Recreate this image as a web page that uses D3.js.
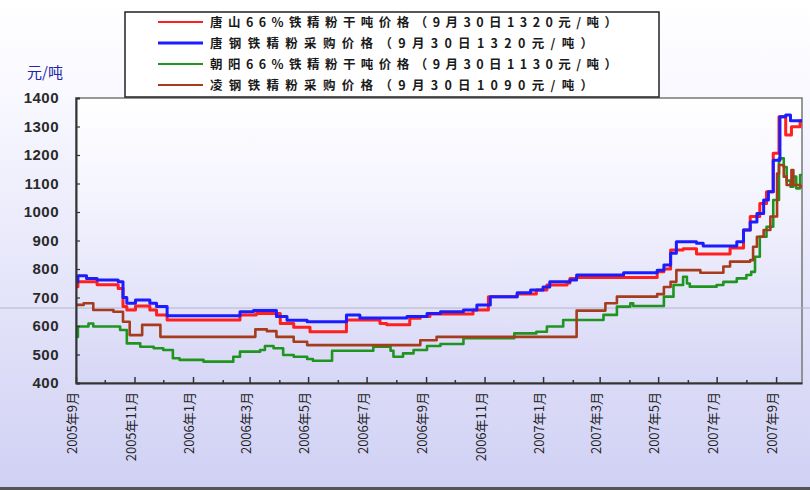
<!DOCTYPE html>
<html>
<head>
<meta charset="utf-8">
<script src="https://cdn.jsdelivr.net/npm/d3@7"></script>
<style>
  body { margin: 0; background: #fff; }
  svg { display: block; }
</style>
</head>
<body>
<svg id="chart"></svg>
<script>
// step series, [date, yuan/ton] = value from that date on
const tangshan = [["2005-09-01",738],["2005-09-03",755],["2005-09-23",745],["2005-10-15",732],["2005-10-20",668],["2005-10-24",656],["2005-11-02",670],["2005-11-17",656],["2005-11-24",639],["2005-12-05",621],["2006-02-19",639],["2006-03-08",644],["2006-04-02",609],["2006-04-16",596],["2006-05-03",580],["2006-06-10",621],["2006-07-15",609],["2006-07-22",604],["2006-08-15",627],["2006-08-26",633],["2006-09-05",642],["2006-10-20",656],["2006-11-05",703],["2006-12-05",712],["2006-12-25",726],["2007-01-05",744],["2007-01-26",751],["2007-01-29",767],["2007-02-05",770],["2007-04-30",790],["2007-05-07",800],["2007-05-14",867],["2007-05-27",871],["2007-06-10",853],["2007-07-15",874],["2007-07-29",937],["2007-08-05",984],["2007-08-15",1030],["2007-08-22",1071],["2007-08-29",1206],["2007-09-04",1334],["2007-09-11",1270],["2007-09-17",1299],["2007-09-26",1320],["2007-09-28",1320]]
const tanggang = [["2005-09-01",755],["2005-09-03",776],["2005-09-12",767],["2005-09-23",761],["2005-10-15",755],["2005-10-20",700],["2005-10-24",680],["2005-11-02",691],["2005-11-17",680],["2005-11-24",668],["2005-12-05",636],["2006-02-19",650],["2006-03-05",654],["2006-03-29",633],["2006-04-09",620],["2006-04-30",615],["2006-06-10",639],["2006-06-24",628],["2006-08-12",633],["2006-09-02",644],["2006-09-16",650],["2006-10-10",656],["2006-10-24",674],["2006-11-07",703],["2006-12-05",717],["2006-12-19",726],["2007-01-01",737],["2007-01-08",755],["2007-01-29",761],["2007-02-05",779],["2007-03-26",787],["2007-04-30",796],["2007-05-07",814],["2007-05-14",855],["2007-05-20",896],["2007-06-10",890],["2007-06-17",881],["2007-07-22",896],["2007-07-29",937],["2007-08-05",965],["2007-08-12",995],["2007-08-19",1042],["2007-08-24",1071],["2007-08-29",1182],["2007-09-05",1334],["2007-09-11",1340],["2007-09-16",1320],["2007-09-28",1320]]
const chaoyang = [["2005-09-01",562],["2005-09-03",598],["2005-09-14",609],["2005-09-19",598],["2005-10-17",586],["2005-10-24",539],["2005-11-07",527],["2005-11-21",522],["2005-12-01",516],["2005-12-11",487],["2005-12-18",481],["2006-01-12",475],["2006-02-12",492],["2006-02-19",510],["2006-03-12",516],["2006-03-17",530],["2006-03-26",522],["2006-04-05",498],["2006-04-16",492],["2006-04-30",484],["2006-05-06",478],["2006-05-26",513],["2006-07-08",527],["2006-07-26",513],["2006-07-29",492],["2006-08-08",504],["2006-08-19",516],["2006-09-02",530],["2006-09-16",537],["2006-10-10",557],["2006-12-02",574],["2006-12-25",580],["2007-01-05",598],["2007-01-22",621],["2007-03-05",639],["2007-03-19",668],["2007-04-02",680],["2007-04-05",670],["2007-05-07",703],["2007-05-17",744],["2007-05-27",773],["2007-05-31",749],["2007-06-03",738],["2007-07-01",744],["2007-07-08",755],["2007-07-22",767],["2007-08-01",779],["2007-08-06",790],["2007-08-10",843],["2007-08-15",913],["2007-08-22",948],["2007-08-29",1042],["2007-09-04",1188],["2007-09-09",1158],["2007-09-12",1110],["2007-09-16",1089],["2007-09-19",1124],["2007-09-22",1083],["2007-09-26",1130],["2007-09-28",1130]]
const linggang = [["2005-09-01",674],["2005-09-09",680],["2005-09-19",656],["2005-10-10",650],["2005-10-20",615],["2005-10-27",568],["2005-11-09",604],["2005-11-28",562],["2006-03-07",588],["2006-03-19",582],["2006-03-29",562],["2006-04-16",545],["2006-04-30",533],["2006-08-26",550],["2006-09-12",562],["2007-02-05",654],["2007-03-07",680],["2007-03-19",703],["2007-04-30",712],["2007-05-07",737],["2007-05-14",755],["2007-05-20",796],["2007-06-14",787],["2007-07-08",809],["2007-07-15",826],["2007-08-05",831],["2007-08-08",878],["2007-08-12",913],["2007-08-19",937],["2007-08-26",984],["2007-09-02",1135],["2007-09-04",1165],["2007-09-09",1124],["2007-09-12",1095],["2007-09-17",1147],["2007-09-19",1095],["2007-09-26",1090],["2007-09-28",1090]]

const seriesNames = ["唐山66%铁精粉干吨价格（9月30日1320元/吨）", "唐钢铁精粉采购价格（9月30日1320元/吨）", "朝阳66%铁精粉干吨价格（9月30日1130元/吨）", "凌钢铁精粉采购价格（9月30日1090元/吨）"]
const yTicks = [400, 500, 600, 700, 800, 900, 1000, 1100, 1200, 1300, 1400]
const dateRange = ["2005-09-01", "2007-09-28"]
const yUnit = "元/吨"

const width = 810, height = 490
const margin = {left: 76, right: 8, top: 98, bottom: 107}
const colors = ["#ff1f1f", "#1c1cff", "#1f951f", "#a53c1c"]
const widths = [3, 3, 2.6, 2.6]
const legendLen = [407, 383, 407, 383]

const parse = d3.timeParse("%Y-%m-%d")
const allSeries = [tangshan, tanggang, chaoyang, linggang]
  .map(s => s.map(d => ({date: parse(d[0]), value: d[1]})))

const svg = d3.select("#chart")
  .attr("width", width)
  .attr("height", height)
  .style("font-family", "'Liberation Sans', Arial, sans-serif")

const defs = svg.append("defs")
const bgGrad = defs.append("linearGradient").attr("id", "bg-grad")
  .attr("x1", "0%").attr("y1", "0%").attr("x2", "0%").attr("y2", "100%")
bgGrad.selectAll("stop")
  .data([{o: "0%", c: "#ffffff"}, {o: "20%", c: "#f8f8ff"}, {o: "100%", c: "#d0d0f4"}])
  .enter().append("stop")
  .attr("offset", d => d.o).attr("stop-color", d => d.c)

const plotGrad = defs.append("linearGradient").attr("id", "plot-grad")
  .attr("x1", "0%").attr("y1", "0%").attr("x2", "0%").attr("y2", "100%")
plotGrad.selectAll("stop")
  .data([{o: "0%", c: "#ffffff"}, {o: "35%", c: "#f4f4fe"}, {o: "100%", c: "#d6d6f6"}])
  .enter().append("stop")
  .attr("offset", d => d.o).attr("stop-color", d => d.c)

svg.append("rect")
  .attr("width", width).attr("height", height)
  .attr("fill", "url(#bg-grad)")

const x = d3.scaleTime()
  .domain(dateRange.map(parse))
  .range([margin.left, width - margin.right])
const y = d3.scaleLinear()
  .domain([400, 1400])
  .range([height - margin.bottom, margin.top])

// plot area
svg.append("rect")
  .attr("x", margin.left).attr("y", margin.top)
  .attr("width", width - margin.right - margin.left)
  .attr("height", height - margin.bottom - margin.top)
  .attr("fill", "url(#plot-grad)")
  .attr("stroke", "#777")
  .attr("stroke-width", 1.5)

// faint horizontal line running across the picture
svg.append("line")
  .attr("x1", 0).attr("x2", width)
  .attr("y1", y(663)).attr("y2", y(663))
  .attr("stroke", "#b4b4cc")
  .attr("stroke-width", 1)

const line = d3.line()
  .curve(d3.curveStepAfter)
  .x(d => x(d.date))
  .y(d => y(d.value))

// draw order: green, brown, red, blue
const order = [2, 3, 0, 1]
svg.append("g")
  .selectAll("path")
  .data(order)
  .enter()
  .append("path")
  .attr("d", i => line(allSeries[i]))
  .attr("fill", "none")
  .attr("stroke", i => colors[i])
  .attr("stroke-width", i => widths[i])
  .attr("stroke-linejoin", "round")

// y axis
const yAxis = d3.axisRight(y).tickValues(yTicks).tickSize(4).tickFormat("")
const gy = svg.append("g")
  .attr("transform", `translate(${margin.left},0)`)
  .call(yAxis)
gy.select(".domain").attr("stroke", "#333").attr("stroke-width", 2)
gy.selectAll(".tick line").attr("stroke", "#333").attr("stroke-width", 1.2)

svg.append("g")
  .selectAll("text")
  .data(yTicks)
  .enter()
  .append("text")
  .attr("x", 59)
  .attr("y", d => y(d))
  .attr("dy", "0.36em")
  .attr("text-anchor", "end")
  .style("font-size", "15px")
  .style("font-weight", "bold")
  .style("letter-spacing", "0.5px")
  .attr("fill", "#2a2a2a")
  .text(d => d)

svg.append("text")
  .attr("x", 27).attr("y", 78)
  .style("font-family", "'Noto Sans CJK SC', sans-serif")
  .style("font-size", "15px")
  .attr("fill", "#2424a8")
  .text(yUnit)

// x axis, a tick each month, label every other month
const months = d3.timeMonth.range(parse(dateRange[0]), d3.timeDay.offset(parse(dateRange[1]), 1))
const xAxis = d3.axisTop(x).tickValues(months).tickSizeInner(0).tickSizeOuter(0).tickFormat("")
const gx = svg.append("g")
  .attr("transform", `translate(0,${height - margin.bottom})`)
  .call(xAxis)
gx.select(".domain").attr("stroke", "#333").attr("stroke-width", 2)
gx.selectAll(".tick line")
  .attr("y2", (d, i) => i % 2 === 0 ? -6 : -3)
  .attr("stroke", "#333")
  .attr("stroke-width", 1.5)

svg.append("g")
  .selectAll("text")
  .data(months.filter((d, i) => i % 2 === 0))
  .enter()
  .append("text")
  .attr("transform", d => `translate(${x(d) + 1},${height - margin.bottom + 9}) rotate(-90)`)
  .attr("text-anchor", "end")
  .style("font-family", "'Noto Sans CJK SC', sans-serif")
  .style("font-size", "13px")
  .attr("fill", "#222")
  .text(d => `${d.getFullYear()}年${d.getMonth() + 1}月`)

// legend
const legend = svg.append("g")
legend.append("rect")
  .attr("x", 125).attr("y", 12)
  .attr("width", 534).attr("height", 85)
  .attr("fill", "#fff")
  .attr("stroke", "#222")
  .attr("stroke-width", 1.5)

const rows = legend.selectAll("g.row")
  .data(seriesNames)
  .enter()
  .append("g")
  .attr("class", "row")
  .attr("transform", (d, i) => `translate(0,${22 + i * 21})`)

rows.append("line")
  .attr("x1", 158).attr("x2", 203)
  .attr("stroke", (d, i) => colors[i])
  .attr("stroke-width", (d, i) => i === 1 ? 3 : 2)

rows.append("text")
  .attr("x", 210)
  .attr("dy", "0.36em")
  .attr("textLength", (d, i) => legendLen[i])
  .attr("lengthAdjust", "spacing")
  .style("font-family", "'Noto Sans CJK SC', sans-serif")
  .style("font-size", "12.5px")
  .style("font-weight", "bold")
  .attr("fill", "#1a1a1a")
  .text(d => d)

// dark edge along the bottom of the picture
svg.append("rect")
  .attr("x", 0).attr("y", 487)
  .attr("width", width).attr("height", 3)
  .attr("fill", "#555")
</script>
</body>
</html>
